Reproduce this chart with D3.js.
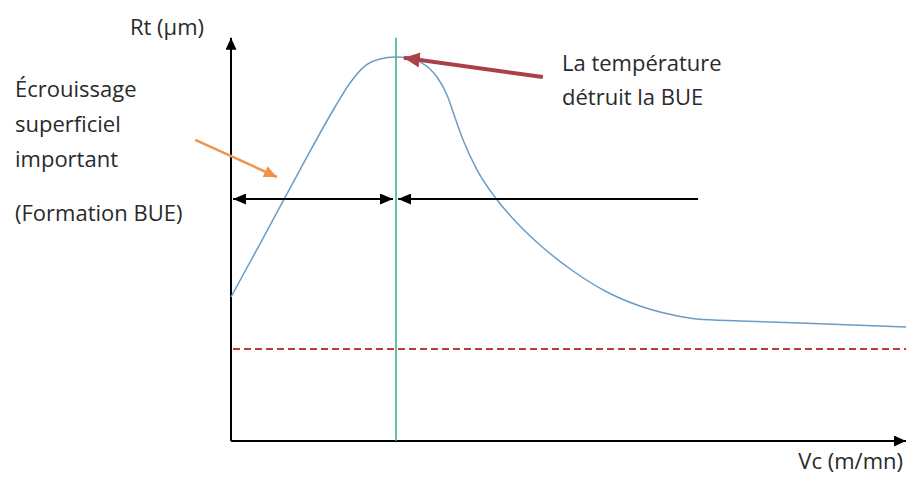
<!DOCTYPE html>
<html>
<head>
<meta charset="utf-8">
<script src="https://cdn.jsdelivr.net/npm/d3@7"></script>
<style>
  html, body { margin: 0; padding: 0; background: #fff; }
  svg { display: block; }
  text { font-family: "Open Sans", "DejaVu Sans", sans-serif; fill: #2a2a2a; }
</style>
</head>
<body>
<div id="chart"></div>
<script>
// ---- Data (arbitrary units) ----
const vcValues = [0, 4.3, 10.22, 15.41, 17.63, 19.85, 22.07, 24.3, 26.22, 28.0, 29.48, 30.52, 32.0, 33.19, 34.37, 36.44, 39.41, 42.52, 45.78, 50.67, 55.7, 60.59, 65.48, 69.04, 75.41, 84.3, 100];
const rtValues = [3.6, 4.93, 6.78, 8.35, 8.95, 9.38, 9.55, 9.6, 9.58, 9.48, 9.3, 9.1, 8.65, 8.08, 7.53, 6.78, 6.03, 5.425, 4.9, 4.25, 3.725, 3.375, 3.15, 3.05, 3.0, 2.95, 2.85];
const minRt = [2.3];            // red dashed reference level
const bueLimitVc = [24.45];     // green vertical line (BUE destroyed)
const zoneArrowRt = [6.05];     // level of the horizontal zone arrows
const zoneLeft = [0.3, 24.0];
const zoneRight = [24.75, 69.2];
const orangeArrow = [[-5.3, 7.53], [6.8, 6.6]];
const redArrow = [[46.2, 9.1], [25.6, 9.58]];
const axisLabels = { y: "Rt (µm)", x: "Vc (m/mn)" };
const leftNote = ["Écrouissage", "superficiel", "important"];
const leftNote2 = "(Formation BUE)";
const rightNote = ["La température", "détruit la BUE"];

// ---- Layout ----
const W = 906, H = 478;
const x = d3.scaleLinear().domain([0, 100]).range([231, 906]);
const y = d3.scaleLinear().domain([0, 10]).range([441, 41]);

const svg = d3.select("#chart").append("svg").attr("width", W).attr("height", H);
const defs = svg.append("defs");
function marker(id, color, len, wid, reverse) {
  defs.append("marker")
    .attr("id", id).attr("markerUnits", "userSpaceOnUse")
    .attr("viewBox", `0 ${-wid/2} ${len} ${wid}`)
    .attr("refX", reverse ? 0 : len).attr("refY", 0)
    .attr("markerWidth", len).attr("markerHeight", wid)
    .attr("orient", "auto")
    .append("path")
    .attr("d", reverse ? `M${len},${-wid/2}L0,0L${len},${wid/2}Z` : `M0,${-wid/2}L${len},0L0,${wid/2}Z`)
    .attr("fill", color);
}
marker("axisHead", "#000", 12, 11, false);
marker("blkEnd", "#000", 13, 11, false);
marker("blkStart", "#000", 13, 11, true);
marker("orangeHead", "#f0944c", 13, 12, false);
marker("redHead", "#a9404a", 16, 15, false);

// Axes
svg.append("line").attr("x1", x(0)).attr("y1", y(0)).attr("x2", x(0)).attr("y2", y(10.08))
  .attr("stroke", "#000").attr("stroke-width", 2).attr("marker-end", "url(#axisHead)");
svg.append("line").attr("x1", x(0)).attr("y1", y(0)).attr("x2", x(100)).attr("y2", y(0))
  .attr("stroke", "#000").attr("stroke-width", 2).attr("marker-end", "url(#axisHead)");

// Dashed reference
svg.append("line").attr("x1", x(0) + 2).attr("x2", x(100)).attr("y1", y(minRt[0])).attr("y2", y(minRt[0]))
  .attr("stroke", "#c0393f").attr("stroke-width", 1.8).attr("stroke-dasharray", "7,4");

// Green vertical line
svg.append("line").attr("x1", x(bueLimitVc[0])).attr("x2", x(bueLimitVc[0])).attr("y1", y(0)).attr("y2", y(10.08))
  .attr("stroke", "#2fae83").attr("stroke-width", 1.5);

// Curve
const pts = vcValues.map((v, i) => [v, rtValues[i]]);
svg.append("path").datum(pts)
  .attr("d", d3.line().x(d => x(d[0])).y(d => y(d[1])).curve(d3.curveMonotoneX))
  .attr("fill", "none").attr("stroke", "#6a9cc8").attr("stroke-width", 1.5);

// Zone arrows
svg.append("line").attr("x1", x(zoneLeft[0])).attr("x2", x(zoneLeft[1])).attr("y1", y(zoneArrowRt[0])).attr("y2", y(zoneArrowRt[0]))
  .attr("stroke", "#000").attr("stroke-width", 2)
  .attr("marker-start", "url(#blkStart)").attr("marker-end", "url(#blkEnd)");
svg.append("line").attr("x1", x(zoneRight[0])).attr("x2", x(zoneRight[1])).attr("y1", y(zoneArrowRt[0])).attr("y2", y(zoneArrowRt[0]))
  .attr("stroke", "#000").attr("stroke-width", 2)
  .attr("marker-start", "url(#blkStart)");

// Annotation arrows
svg.append("line").attr("x1", x(orangeArrow[0][0])).attr("y1", y(orangeArrow[0][1]))
  .attr("x2", x(orangeArrow[1][0])).attr("y2", y(orangeArrow[1][1]))
  .attr("stroke", "#f0944c").attr("stroke-width", 2.5).attr("marker-end", "url(#orangeHead)");
svg.append("line").attr("x1", x(redArrow[0][0])).attr("y1", y(redArrow[0][1]))
  .attr("x2", x(redArrow[1][0])).attr("y2", y(redArrow[1][1]))
  .attr("stroke", "#a9404a").attr("stroke-width", 4).attr("marker-end", "url(#redHead)");

// Texts
const fs = 22;
svg.append("text").attr("x", 204).attr("y", 35).attr("text-anchor", "end").attr("font-size", fs).text(axisLabels.y);
svg.append("text").attr("x", 903).attr("y", 469).attr("text-anchor", "end").attr("font-size", fs).text(axisLabels.x);
leftNote.forEach((t, i) => svg.append("text").attr("x", 15).attr("y", 97 + i * 35).attr("font-size", fs).text(t));
svg.append("text").attr("x", 15).attr("y", 221).attr("font-size", fs).text(leftNote2);
rightNote.forEach((t, i) => svg.append("text").attr("x", 562).attr("y", 71 + i * 34).attr("font-size", fs).text(t));
</script>
</body>
</html>
